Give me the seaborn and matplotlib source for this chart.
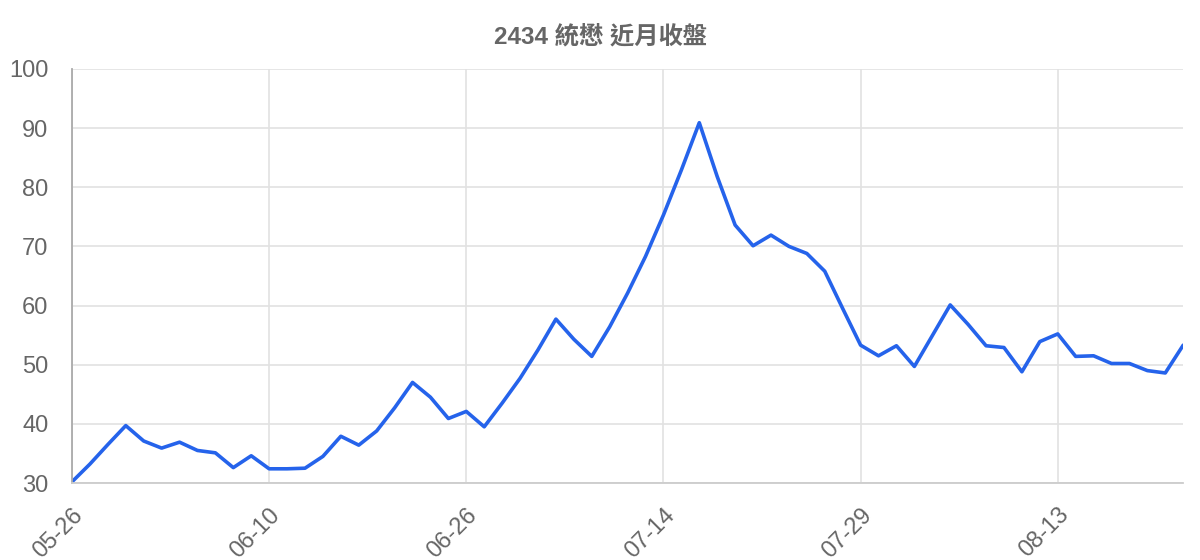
import matplotlib
matplotlib.use("Agg")
import matplotlib.pyplot as plt
import seaborn as sns
import pandas as pd

# trading dates shown on the x axis (MM-DD)
dates = [
    "05-26", "05-27", "05-28", "05-29", "05-30", "06-02", "06-03", "06-04",
    "06-05", "06-06", "06-09", "06-10", "06-11", "06-12", "06-13", "06-16",
    "06-17", "06-18", "06-19", "06-23", "06-24", "06-25", "06-26", "06-27",
    "06-30", "07-01", "07-02", "07-03", "07-07", "07-08", "07-09", "07-10",
    "07-11", "07-14", "07-15", "07-16", "07-17", "07-18", "07-21", "07-22",
    "07-23", "07-24", "07-25", "07-28", "07-29", "07-30", "07-31", "08-01",
    "08-04", "08-05", "08-06", "08-07", "08-08", "08-11", "08-12", "08-13",
    "08-14", "08-15", "08-18", "08-19", "08-20", "08-21", "08-22",
]

# closing prices
close = [
    30.2, 33.2, 36.5, 39.7, 37.1, 35.9, 36.9, 35.5, 35.1, 32.6,
    34.6, 32.4, 32.4, 32.5, 34.5, 37.9, 36.4, 38.8, 42.7, 47.0,
    44.5, 40.9, 42.1, 39.5, 43.5, 47.7, 52.5, 57.7, 54.3, 51.4,
    56.4, 62.1, 68.3, 75.3, 82.9, 90.9, 81.8, 73.6, 70.1, 71.9,
    70.0, 68.8, 65.8, 59.5, 53.3, 51.5, 53.2, 49.7, 54.9, 60.1,
    56.8, 53.2, 52.9, 48.8, 53.9, 55.2, 51.4, 51.5, 50.2, 50.2,
    49.0, 48.6, 53.3,
]

y_ticks = [30, 40, 50, 60, 70, 80, 90, 100]
title = "2434 統懋 近月收盤"

sns.set_style("white")
plt.rcParams["font.family"] = ["Liberation Sans", "Noto Sans CJK TC", "DejaVu Sans"]

df = pd.DataFrame({"idx": range(len(dates)), "date": dates, "close": close})

grid_c = "#e2e2e2"
text_c = "#666666"

fig = plt.figure(figsize=(12, 5.6), dpi=100)
ax = fig.add_axes([0.06, 0.1375, 0.926, 0.7395])

sns.lineplot(data=df, x="idx", y="close", ax=ax, color="#2563eb", linewidth=2.6)

ax.set_xlim(0, len(dates) - 1)
ax.set_ylim(30, 100)
ax.set_yticks(y_ticks)
ax.set_yticklabels([str(v) for v in y_ticks])

tick_pos = list(range(0, len(dates), 11))
ax.set_xticks(tick_pos)
ax.set_xticklabels([dates[i] for i in tick_pos], rotation=45, ha="right",
                   rotation_mode="anchor")

ax.grid(True, color=grid_c, linewidth=1.2)
ax.set_axisbelow(True)
ax.tick_params(axis="both", which="both", length=14, width=1.2, color=grid_c,
               labelcolor=text_c, labelsize=17, direction="out", pad=3)
ax.tick_params(axis="x", pad=1)

for side in ["top", "right"]:
    ax.spines[side].set_visible(False)
ax.spines["left"].set_color("#aaaaaa")
ax.spines["left"].set_linewidth(1.3)
ax.spines["bottom"].set_color("#cccccc")
ax.spines["bottom"].set_linewidth(1.3)

ax.set_xlabel("")
ax.set_ylabel("")
fig.text(0.5, 0.935, title, ha="center", va="center", fontsize=17.5,
         fontweight="bold", color=text_c)

fig.savefig("out.png", dpi=100)
